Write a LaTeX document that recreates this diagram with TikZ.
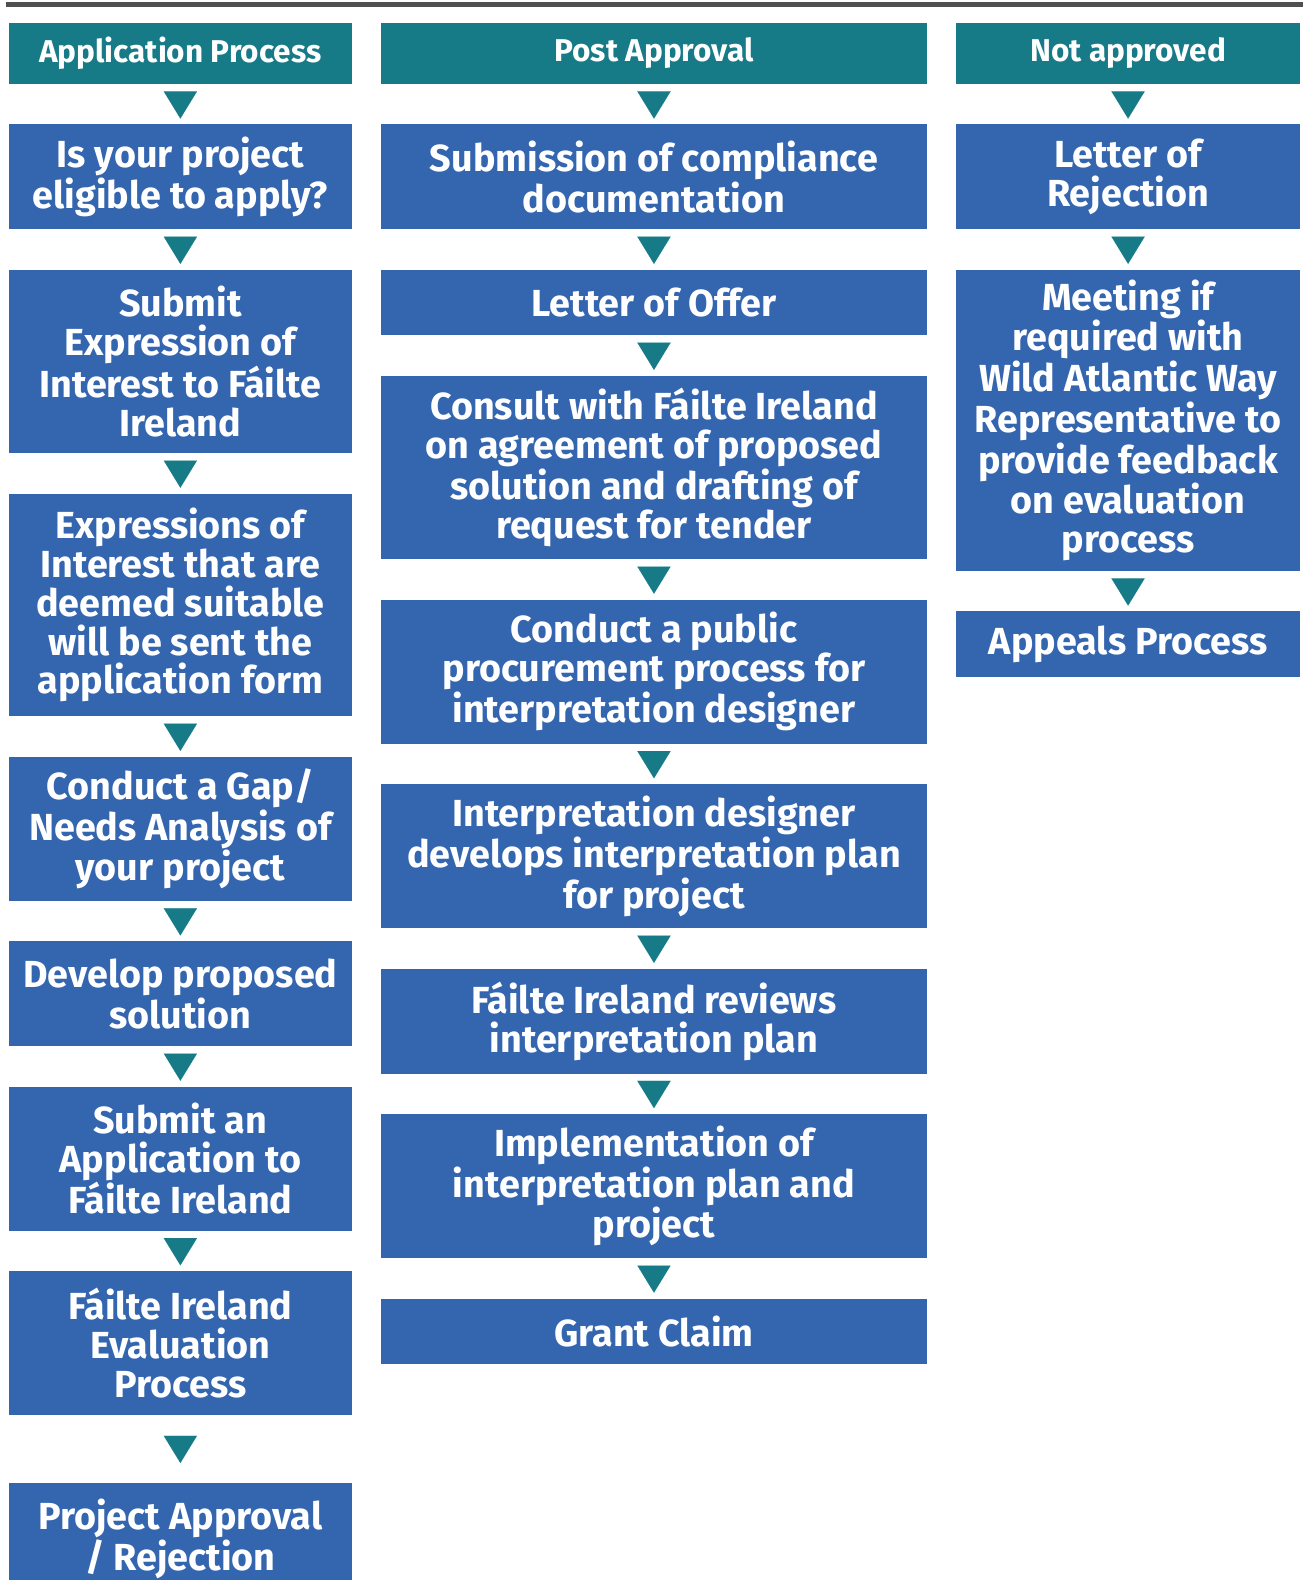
\documentclass[tikz,border=0pt]{standalone}
\usepackage{fontspec}
\setmainfont{Fira Sans}
\usepackage{tikz}
\usetikzlibrary{arrows.meta, positioning}
\definecolor{cTeal}{RGB}{23,122,135}
\definecolor{cStep}{RGB}{52,101,175}
\definecolor{cRule}{RGB}{80,80,80}
\tikzset{
  basebox/.style={rectangle, anchor=north, align=center, text=white,
                  inner sep=0pt},
  headbox/.style={basebox, fill=cTeal, minimum height=1.22cm,
                  font=\fontsize{17.8}{20}\selectfont\bfseries},
  stepbox/.style={basebox, fill=cStep,
                  font=\fontsize{21.3}{22}\selectfont\bfseries},
  colA/.style={minimum width=6.8cm},
  colB/.style={minimum width=10.84cm},
  colC/.style={minimum width=6.82cm},
  lines1/.style={minimum height=1.30cm},
  lines2/.style={minimum height=2.08cm},
  lines3/.style={minimum height=2.86cm},
  lines4/.style={minimum height=3.64cm},
  lines5/.style={minimum height=4.42cm},
  lines7/.style={minimum height=5.98cm},
  flow/.style={-{Triangle[length=0.54cm, width=0.66cm]}, line width=0.01pt,
               draw=cTeal, fill=cTeal, shorten <=0.14cm, shorten >=0.11cm},
  longflow/.style={flow, shorten <=0.4cm, shorten >=0.4cm},
  topline/.style={draw=cRule, line width=0.1cm}
}

\begin{document}
\begin{tikzpicture}[x=0.02cm, y=-0.02cm, node distance=0.79cm]
  \useasboundingbox (0,0) rectangle (1293,1568);
  \draw[topline] (6,4.5) -- (1293,4.5);

  % application column
  \node[headbox, colA] (appHead) at (179,22) {Application Process};
  \node[stepbox, colA, lines2, below=of appHead] (eligible) {Is your project\\eligible to apply?};
  \node[stepbox, colA, lines4, below=of eligible] (expression) {Submit\\Expression of\\Interest to Fáilte\\Ireland};
  \node[stepbox, colA, lines5, below=of expression] (suitable) {Expressions of\\Interest that are\\deemed suitable\\will be sent the\\application form};
  \node[stepbox, colA, lines3, below=of suitable] (gap) {Conduct a Gap/\\Needs Analysis of\\your project};
  \node[stepbox, colA, lines2, below=of gap] (solution) {Develop proposed\\solution};
  \node[stepbox, colA, lines3, below=of solution] (apply) {Submit an\\Application to\\Fáilte Ireland};
  \node[stepbox, colA, lines3, below=of apply] (evaluation) {Fáilte Ireland\\Evaluation\\Process};
  \node[stepbox, colA, minimum height=2.2cm, below=1.34cm of evaluation] (decision) {Project Approval\\/ Rejection};

  % post approval column
  \node[headbox, colB] (postHead) at (649,22) {Post Approval};
  \node[stepbox, colB, lines2, below=of postHead] (compliance) {Submission of compliance\\documentation};
  \node[stepbox, colB, lines1, below=of compliance] (offer) {Letter of Offer};
  \node[stepbox, colB, lines4, below=of offer] (consult) {Consult with Fáilte Ireland\\on agreement of proposed\\solution and drafting of\\request for tender};
  \node[stepbox, colB, lines3, below=of consult] (procure) {Conduct a public\\procurement process for\\interpretation designer};
  \node[stepbox, colB, lines3, below=of procure] (designer) {Interpretation designer\\develops interpretation plan\\for project};
  \node[stepbox, colB, lines2, below=of designer] (review) {Fáilte Ireland reviews\\interpretation plan};
  \node[stepbox, colB, lines3, below=of review] (implement) {Implementation of\\interpretation plan and\\project};
  \node[stepbox, colB, lines1, below=of implement] (claim) {Grant Claim};

  % not approved column
  \node[headbox, colC] (notHead) at (1119.5,22) {Not approved};
  \node[stepbox, colC, lines2, below=of notHead] (rejection) {Letter of\\Rejection};
  \node[stepbox, colC, lines7, below=of rejection] (meeting) {Meeting if\\required with\\Wild Atlantic Way\\Representative to\\provide feedback\\on evaluation\\process};
  \node[stepbox, colC, lines1, below=of meeting] (appeals) {Appeals Process};

  % arrows
  \foreach \a/\b in {appHead/eligible, eligible/expression, expression/suitable,
                     suitable/gap, gap/solution, solution/apply, apply/evaluation,
                     postHead/compliance, compliance/offer, offer/consult,
                     consult/procure, procure/designer, designer/review,
                     review/implement, implement/claim,
                     notHead/rejection, rejection/meeting, meeting/appeals}
    \draw[flow] (\a.south) -- (\b.north);
  \draw[longflow] (evaluation.south) -- (decision.north);
\end{tikzpicture}
\end{document}
